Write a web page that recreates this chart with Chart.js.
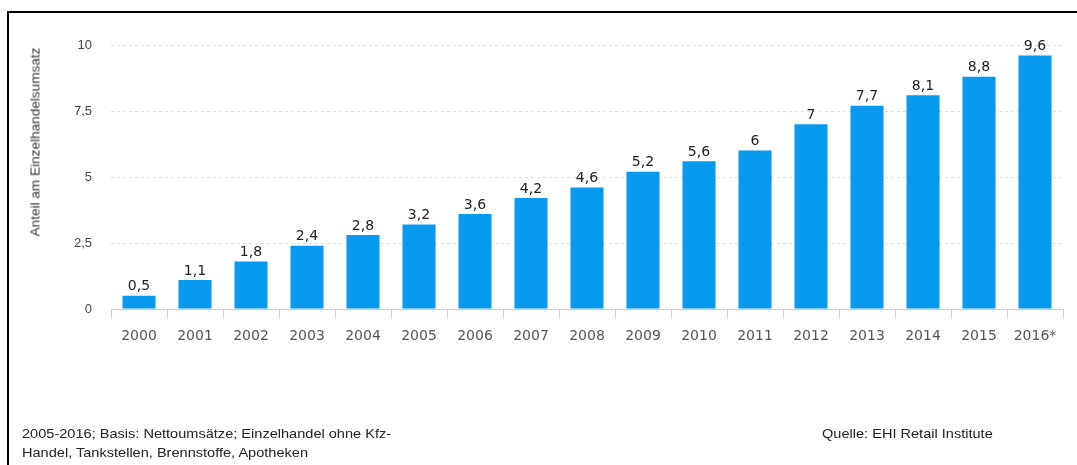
<!DOCTYPE html>
<html lang="de">
<head>
  <meta charset="UTF-8" />
  <title>Anteil am Einzelhandelsumsatz</title>
  <style>
    body {
      margin: 0;
      background: #fff;
      width: 1077px;
      height: 465px;
      overflow: hidden;
      position: relative;
      font-family: 'Liberation Sans', Arial, sans-serif;
    }
    .rahmen {
      position: absolute;
      left: 7px;
      top: 11px;
      width: 1080px;
      height: 470px;
      border-top: 2px solid #000;
      border-left: 2px solid #000;
    }
    #wrap {
      position: absolute;
      left: 0;
      top: 0;
      width: 1077px;
      height: 465px;
    }
    .fuss {
      position: absolute;
      font-size: 13px;
      color: #222;
      line-height: 19px;
      white-space: nowrap;
      transform-origin: left top;
      transform: scaleX(1.12);
    }
    .ytitel {
      position: absolute;
      left: 35px;
      top: 142px;
      font-size: 13.6px;
      color: #333;
      white-space: nowrap;
      transform: translate(-50%, -50%) rotate(-90deg);
    }
  </style>
</head>
<body>
  <div class="rahmen"></div>
  <div id="wrap"><canvas id="grafik" width="1077" height="465"></canvas></div>
  <div class="ytitel">Anteil am Einzelhandelsumsatz</div>
  <div class="fuss" style="left:22px; top:424px;">2005-2016; Basis: Nettoumsätze; Einzelhandel ohne Kfz-<br>Handel, Tankstellen, Brennstoffe, Apotheken</div>
  <div class="fuss" style="left:822px; top:424px;">Quelle: EHI Retail Institute</div>

  <script src="https://cdn.jsdelivr.net/npm/chart.js"></script>
  <script>
    const jahre = ['2000', '2001', '2002', '2003', '2004', '2005', '2006', '2007', '2008',
                   '2009', '2010', '2011', '2012', '2013', '2014', '2015', '2016*'];
    const anteile = [0.5, 1.1, 1.8, 2.4, 2.8, 3.2, 3.6, 4.2, 4.6, 5.2, 5.6, 6, 7, 7.7, 8.1, 8.8, 9.6];
    const yTicks = [0, 2.5, 5, 7.5, 10];

    const komma = v => String(v).replace('.', ',');

    // Werte über den Balken
    const werteLabels = {
      id: 'werteLabels',
      afterDatasetsDraw(chart) {
        const ctx = chart.ctx;
        const meta = chart.getDatasetMeta(0);
        ctx.save();
        ctx.font = '14px "DejaVu Sans", sans-serif';
        ctx.fillStyle = '#222';
        ctx.textAlign = 'center';
        ctx.textBaseline = 'bottom';
        meta.data.forEach((bar, i) => {
          ctx.fillText(komma(anteile[i]), bar.x, bar.y - 2);
        });
        ctx.restore();
      }
    };

    new Chart(document.getElementById('grafik'), {
      type: 'bar',
      data: {
        labels: jahre,
        datasets: [{
          data: anteile,
          backgroundColor: '#0899ee',
          barPercentage: 0.59,
          categoryPercentage: 1
        }]
      },
      options: {
        responsive: false,
        animation: false,
        events: [],
        layout: { padding: { top: 45, right: 14, left: 0, bottom: 0 } },
        plugins: {
          legend: { display: false },
          tooltip: { enabled: false }
        },
        scales: {
          x: {
            afterFit: s => { s.height = 156; },
            grid: {
              drawOnChartArea: false,
              drawTicks: true,
              tickLength: 10,
              color: '#cfcfcf',
              offset: true
            },
            border: { display: true, color: '#cfcfcf', width: 1 },
            ticks: {
              color: '#555',
              padding: 9,
              font: { family: '"DejaVu Sans", sans-serif', size: 14 },
              maxRotation: 0,
              autoSkip: false
            }
          },
          y: {
            min: 0,
            max: 10,
            afterFit: s => { s.width = 111; },
            afterBuildTicks: s => { s.ticks = yTicks.map(v => ({ value: v })); },
            grid: {
              drawTicks: false,
              color: '#dedede',
              lineWidth: 1
            },
            border: { display: false, dash: [3, 3] },
            ticks: {
              color: '#444',
              padding: 19,
              font: { family: '"Liberation Sans", Arial, sans-serif', size: 13 },
              callback: v => komma(v)
            }
          }
        }
      },
      plugins: [werteLabels]
    });
  </script>
</body>
</html>
